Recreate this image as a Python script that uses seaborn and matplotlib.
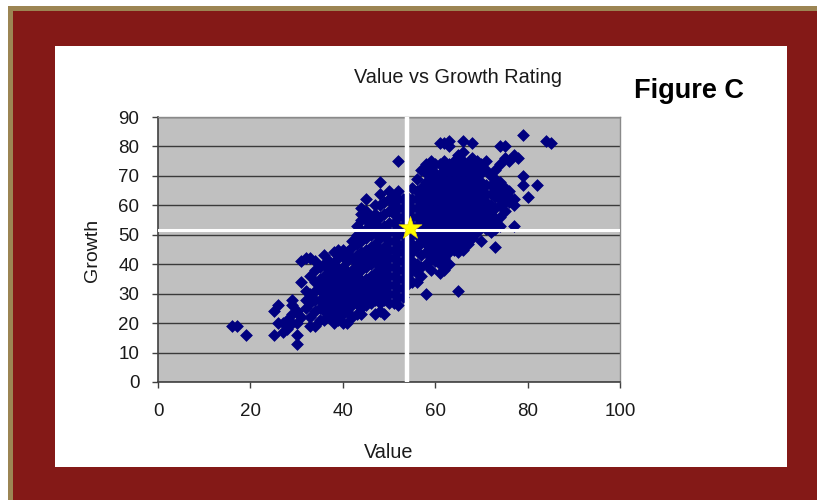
import matplotlib
matplotlib.use("Agg")
import matplotlib.pyplot as plt
from matplotlib.patches import Rectangle
import seaborn as sns
import pandas as pd

# ---- data (Value -> list of Growth ratings) ----
growth_by_value = {
    16: [19], 17: [19], 19: [16],
    25: [16, 24], 26: [20, 26], 27: [17, 20], 28: [18, 21],
    29: [20, 23, 26, 28], 30: [13, 16, 20, 24], 31: [22, 34, 41],
    32: [25, 28, 31, 42], 33: [19, 22, 27, 30, 36, 42],
    34: [19, 24, 28, 31, 34, 38, 41], 35: [21, 25, 28, 32, 35, 39],
    36: [21, 24, 27, 30, 33, 36, 40, 43], 37: [22, 25, 29, 32, 35, 38, 41],
    38: [20, 23, 27, 30, 34, 37, 40, 44], 39: [21, 25, 28, 32, 35, 38, 42, 45],
    40: [20, 23, 26, 30, 33, 36, 39, 43, 45], 41: [20, 24, 28, 31, 34, 37, 41, 44],
    42: [22, 26, 29, 32, 35, 38, 42, 46, 48],
    43: [23, 27, 30, 33, 36, 40, 43, 47, 50, 53],
    44: [23, 25, 28, 31, 34, 38, 41, 44, 48, 51, 55, 57, 59],
    45: [26, 29, 32, 35, 39, 42, 45, 49, 52, 55, 58, 62],
    46: [27, 30, 33, 36, 40, 43, 46, 50, 53, 56],
    47: [23, 28, 31, 34, 37, 41, 44, 47, 51, 54, 57, 60],
    48: [24, 27, 30, 33, 36, 39, 42, 45, 49, 52, 56, 60, 64, 68],
    49: [23, 28, 31, 34, 37, 40, 43, 46, 50, 53, 57, 61],
    50: [27, 30, 33, 36, 39, 42, 45, 48, 51, 54, 58, 62, 65],
    51: [27, 30, 33, 36, 39, 42, 45, 48, 51, 54, 57, 60, 63],
    52: [26, 29, 32, 35, 38, 41, 44, 47, 50, 53, 56, 59, 62, 65, 75],
    53: [29, 32, 35, 38, 41, 44, 47, 50, 53, 56, 59, 62],
    54: [33, 36, 39, 42, 45, 48, 51, 54, 57, 60, 63],
    55: [34, 38, 41, 44, 47, 50, 53, 56, 59, 62, 66],
    56: [34, 37, 40, 46, 50, 53, 56, 59, 62, 65, 69],
    57: [36, 39, 43, 48, 51, 54, 57, 60, 63, 66, 72],
    58: [30, 40, 44, 47, 50, 53, 56, 59, 62, 65, 68, 71, 74],
    59: [38, 42, 45, 49, 52, 55, 58, 61, 64, 67, 70, 73, 75],
    60: [41, 44, 47, 50, 53, 56, 59, 62, 65, 68, 71, 74],
    61: [37, 40, 43, 46, 49, 52, 55, 58, 61, 64, 67, 70, 74, 81],
    62: [38, 42, 45, 48, 51, 54, 57, 60, 63, 66, 69, 72, 75, 81],
    63: [40, 44, 47, 50, 53, 56, 59, 62, 65, 68, 71, 74, 80, 82],
    64: [45, 48, 51, 54, 57, 60, 63, 66, 69, 72, 75],
    65: [31, 44, 47, 50, 53, 56, 59, 62, 65, 68, 71, 74, 77],
    66: [45, 48, 51, 54, 57, 60, 63, 66, 69, 72, 75, 78, 82],
    67: [47, 50, 53, 56, 59, 62, 65, 68, 71, 74],
    68: [49, 52, 55, 58, 61, 64, 67, 70, 73, 76, 81],
    69: [51, 54, 57, 60, 63, 66, 69, 72, 75],
    70: [48, 53, 56, 59, 62, 65, 68, 71, 74],
    71: [52, 55, 58, 61, 64, 67, 72, 75],
    72: [51, 54, 57, 60, 64, 67, 70],
    73: [46, 52, 55, 59, 63, 66, 69, 72],
    74: [53, 56, 60, 62, 64, 68, 74, 80],
    75: [58, 61, 63, 66, 76, 80],
    76: [61, 63, 65, 75], 77: [53, 60, 62, 77], 78: [76],
    79: [67, 70, 84], 80: [63], 82: [67], 84: [82], 85: [81],
}
star_value = [54.5]
star_growth = [52.2]
mean_value = 54.0
mean_growth = 51.5

x_ticks = [0, 20, 40, 60, 80, 100]
y_ticks = [0, 10, 20, 30, 40, 50, 60, 70, 80, 90]

title_text = "Value vs Growth Rating"
figure_tag = "Figure C"
x_label = "Value"
y_label = "Growth"

rows = [(v, g) for v, gs in growth_by_value.items() for g in gs]
df = pd.DataFrame(rows, columns=["Value", "Growth"])

sns.set_theme(style="white")
plt.rcParams["font.family"] = ["Liberation Sans", "DejaVu Sans"]

W, H = 817, 500
fig = plt.figure(figsize=(W / 100, H / 100), dpi=100)
fig.patch.set_facecolor("white")

# frame: tan edge, dark red border, white panel
fig.add_artist(Rectangle((8 / W, 0), 1, 1 - 6 / H, transform=fig.transFigure,
                         facecolor="#9c8553", edgecolor="none", zorder=-3))
fig.add_artist(Rectangle((13 / W, 0), 1, 1 - 11 / H, transform=fig.transFigure,
                         facecolor="#841917", edgecolor="none", zorder=-2))
fig.add_artist(Rectangle((55 / W, 1 - 467 / H), (787 - 55) / W, (467 - 46) / H,
                         transform=fig.transFigure, facecolor="white",
                         edgecolor="none", zorder=-1))

ax = fig.add_axes([158 / W, 1 - 382 / H, (620 - 158) / W, (382 - 117) / H])
ax.set_facecolor("#c0c0c0")

sns.scatterplot(data=df, x="Value", y="Growth", marker="D", s=36,
                color="#000080", edgecolor="#000080", linewidth=0.5,
                ax=ax, zorder=3, legend=False)

ax.axvline(mean_value, color="white", lw=3.2, zorder=4)
ax.axhline(mean_growth, color="white", lw=2.2, zorder=4)
ax.scatter(star_value, star_growth, marker="*", s=300, color="#ffff00",
           edgecolor="#e6d200", linewidth=0.5, zorder=5)

ax.set_xlim(0, 100)
ax.set_ylim(0, 90)
ax.set_xticks(x_ticks)
ax.set_yticks(y_ticks)
ax.set_xlabel("")
ax.set_ylabel("")
ax.set_axisbelow(True)
ax.yaxis.grid(True, color="#3a3a3a", lw=1.0)
ax.xaxis.grid(False)

for side in ["left", "bottom"]:
    ax.spines[side].set_color("#404040")
    ax.spines[side].set_linewidth(1.2)
for side in ["top", "right"]:
    ax.spines[side].set_color("#8a8a8a")
    ax.spines[side].set_linewidth(1.0)

ax.tick_params(axis="both", direction="out", length=4.5, width=1.0,
               color="#404040", labelsize=13.5, labelcolor="#1a1a1a")
ax.tick_params(axis="y", pad=9, left=True)
ax.tick_params(axis="x", pad=10.5, bottom=True)

fig.text(458 / W, 1 - 83 / H, title_text, ha="center", va="baseline",
         fontsize=14.3, color="#1a1a1a")
fig.text(689 / W, 1 - 98 / H, figure_tag, ha="center", va="baseline",
         fontsize=19.5, fontweight="bold", color="black")
fig.text(389 / W, 1 - 452 / H, x_label, ha="center", va="center",
         fontsize=14.3, color="#1a1a1a")
fig.text(92 / W, 1 - 250 / H, y_label, ha="center", va="center",
         rotation=90, fontsize=14, color="#1a1a1a")

fig.savefig("out.png", dpi=100, facecolor=fig.get_facecolor())
